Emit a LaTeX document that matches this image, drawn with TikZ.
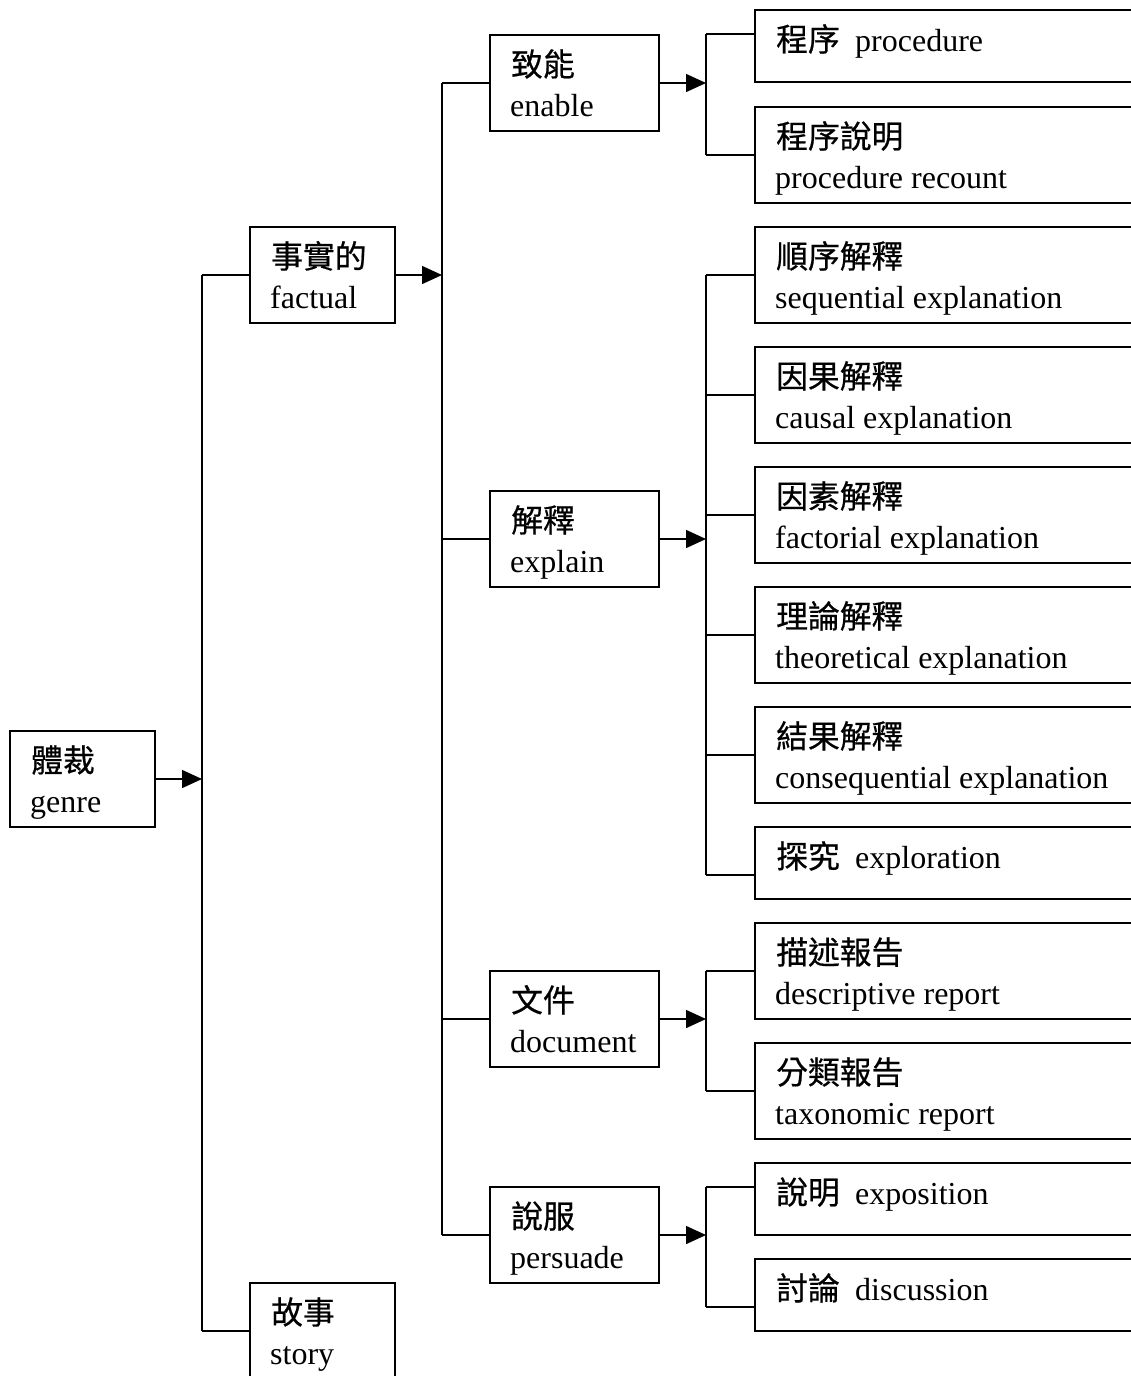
\documentclass[tikz,border=0pt]{standalone}
\usepackage{fontspec}
\setmainfont{Liberation Serif}
\newfontfamily\cjk{Noto Sans CJK TC}[FakeBold=0.6]
\usetikzlibrary{arrows.meta,calc}

% label helpers: two-line box (Chinese over English) and one-line box
\newcommand\boxtwo[3]{%
  \node[zh] (#1-zh) at ($(#1.north west)+(21,41)$) {#2};
  \node[en] (#1-en) at ($(#1.north west)+(20,81)$) {#3};}
\newcommand\boxone[3]{%
  \node[zh] (#1-zh) at ($(#1.north west)+(21,41)$) {#2};
  \node[en] (#1-en) at ($(#1.north west)+(100,41)$) {#3};}

\begin{document}
\begin{tikzpicture}[x=1pt,y=-1pt,
  box/.style={draw,line width=1.5pt,rectangle,inner sep=0pt,outer sep=0pt,anchor=north west},
  lvA/.style={box,minimum width=145pt,minimum height=96pt},
  lvB/.style={box,minimum width=169pt,minimum height=96pt},
  leafTwo/.style={box,minimum width=405pt,minimum height=96pt},
  leafOne/.style={box,minimum width=405pt,minimum height=72pt},
  ln/.style={line width=1.5pt},
  arr/.style={ln,-{Triangle[length=20pt,width=18pt]}},
  zh/.style={anchor=base west,inner sep=0pt,font=\cjk\fontsize{31.8}{36}\selectfont},
  en/.style={anchor=base west,inner sep=0pt,font=\fontsize{32}{36}\selectfont}]
\useasboundingbox (0,0) rectangle (1131,1376);
\clip (0,0) rectangle (1131,1376);

% ---- boxes ----
\node[lvA] (genre)   at (10,731)  {};
\node[lvA] (factual) at (250,227) {};
\node[lvA] (story)   at (250,1283) {};

\node[lvB] (enable)   at (490,35)   {};
\node[lvB] (explain)  at (490,491)  {};
\node[lvB] (document) at (490,971)  {};
\node[lvB] (persuade) at (490,1187) {};

\node[leafOne] (proc)    at (755,10)   {};
\node[leafTwo] (recount) at (755,107)  {};
\node[leafTwo] (seq)     at (755,227)  {};
\node[leafTwo] (causal)  at (755,347)  {};
\node[leafTwo] (fact)    at (755,467)  {};
\node[leafTwo] (theo)    at (755,587)  {};
\node[leafTwo] (conseq)  at (755,707)  {};
\node[leafOne] (explor)  at (755,827)  {};
\node[leafTwo] (descr)   at (755,923)  {};
\node[leafTwo] (taxo)    at (755,1043) {};
\node[leafOne] (expo)    at (755,1163) {};
\node[leafOne] (disc)    at (755,1259) {};

% ---- labels ----
\boxtwo{genre}{體裁}{genre}
\boxtwo{factual}{事實的}{factual}
\boxtwo{story}{故事}{story}
\boxtwo{enable}{致能}{enable}
\boxtwo{explain}{解釋}{explain}
\boxtwo{document}{文件}{document}
\boxtwo{persuade}{說服}{persuade}
\boxone{proc}{程序}{procedure}
\boxtwo{recount}{程序說明}{procedure recount}
\boxtwo{seq}{順序解釋}{sequential explanation}
\boxtwo{causal}{因果解釋}{causal explanation}
\boxtwo{fact}{因素解釋}{factorial explanation}
\boxtwo{theo}{理論解釋}{theoretical explanation}
\boxtwo{conseq}{結果解釋}{consequential explanation}
\boxone{explor}{探究}{exploration}
\boxtwo{descr}{描述報告}{descriptive report}
\boxtwo{taxo}{分類報告}{taxonomic report}
\boxone{expo}{說明}{exposition}
\boxone{disc}{討論}{discussion}

% ---- junction points ----
\coordinate (a1) at (202,275);
\coordinate (a2) at (202,1331);
\coordinate (b1) at (442,83);
\coordinate (b2) at (442,1235);
\coordinate (e1) at (706,34);
\coordinate (e2) at (706,155);
\coordinate (x1) at (706,275);
\coordinate (x2) at (706,395);
\coordinate (x3) at (706,515);
\coordinate (x4) at (706,635);
\coordinate (x5) at (706,755);
\coordinate (x6) at (706,875);
\coordinate (d1) at (706,971);
\coordinate (d2) at (706,1091);
\coordinate (p1) at (706,1187);
\coordinate (p2) at (706,1307);

% ---- genre ----
\draw[ln] (a1) -- (a2);
\draw[arr] (genre.east) -- (genre.east -| a1);
\draw[ln] (a1) -- (a1 -| factual.west);
\draw[ln] (a2) -- (a2 -| story.west);

% ---- factual ----
\draw[ln] (b1) -- (b2);
\draw[arr] (factual.east) -- (factual.east -| b1);
\foreach \n in {enable,explain,document,persuade}
  \draw[ln] (\n.west -| b1) -- (\n.west);

% ---- enable ----
\draw[ln] (e1) -- (e2);
\draw[arr] (enable.east) -- (enable.east -| e1);
\draw[ln] (e1) -- (e1 -| proc.west);
\draw[ln] (e2) -- (e2 -| recount.west);

% ---- explain ----
\draw[ln] (x1) -- (x6);
\draw[arr] (explain.east) -- (explain.east -| x1);
\draw[ln] (x1) -- (x1 -| seq.west);
\draw[ln] (x2) -- (x2 -| causal.west);
\draw[ln] (x3) -- (x3 -| fact.west);
\draw[ln] (x4) -- (x4 -| theo.west);
\draw[ln] (x5) -- (x5 -| conseq.west);
\draw[ln] (x6) -- (x6 -| explor.west);

% ---- document ----
\draw[ln] (d1) -- (d2);
\draw[arr] (document.east) -- (document.east -| d1);
\draw[ln] (d1) -- (d1 -| descr.west);
\draw[ln] (d2) -- (d2 -| taxo.west);

% ---- persuade ----
\draw[ln] (p1) -- (p2);
\draw[arr] (persuade.east) -- (persuade.east -| p1);
\draw[ln] (p1) -- (p1 -| expo.west);
\draw[ln] (p2) -- (p2 -| disc.west);
\end{tikzpicture}
\end{document}
